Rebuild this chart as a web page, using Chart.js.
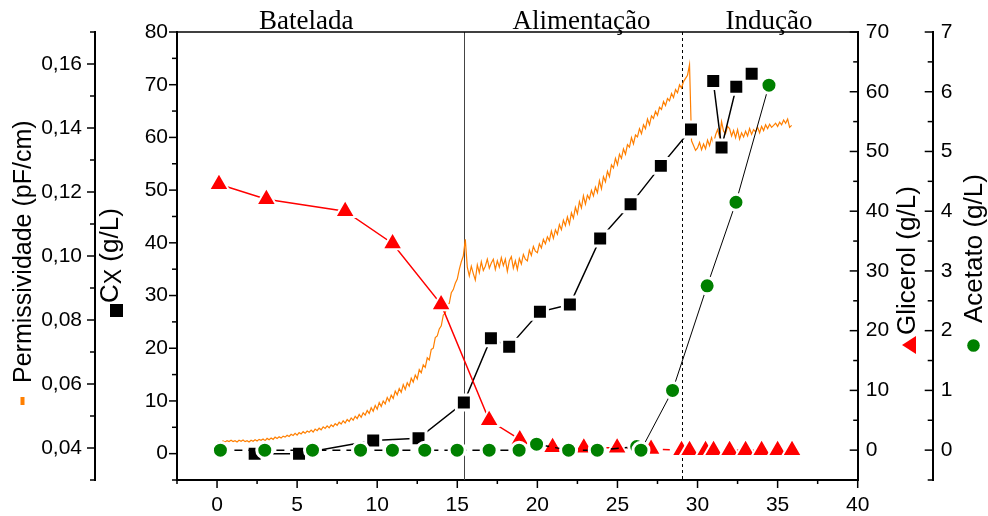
<!DOCTYPE html>
<html>
<head>
<meta charset="utf-8">
<script src="https://cdn.jsdelivr.net/npm/chart.js@4.4.1/dist/chart.umd.min.js"></script>
<style>
  html, body { margin: 0; padding: 0; background: #fff; }
  #chart { display: block; }
</style>
</head>
<body>
<canvas id="chart" width="988" height="516"></canvas>
<script>
// values (time in h)
var cxTime = [2.35, 5.12, 9.75, 12.58, 15.41, 17.1, 18.24, 20.16, 22.03, 23.92, 25.82, 27.71, 29.59, 30.98, 31.5, 32.42, 33.38];
var cxValues = [0, 0, 2.5, 2.9, 9.7, 21.9, 20.3, 26.9, 28.3, 40.8, 47.3, 54.6, 61.5, 70.7, 58.1, 69.6, 72.1];
var cxNoLinkAfter = [12, 15];

var glicerolTime = [0.12, 3.08, 8.0, 10.96, 13.99, 16.99, 18.9, 20.95, 22.9, 24.98, 27.1, 29.0, 29.5, 30.5, 31.0, 32.0, 33.0, 34.0, 35.0, 35.9];
var glicerolValues = [44.5, 42.0, 40.0, 34.6, 24.4, 5.0, 1.8, 0.5, 0.4, 0.4, 0.2, 0, 0, 0, 0, 0, 0, 0, 0, 0];
var glicerolDashFrom = 6;

var acetatoTime = [0.21, 2.98, 5.96, 8.96, 10.95, 12.97, 14.99, 16.99, 18.86, 19.95, 21.95, 23.74, 26.2, 26.47, 28.44, 30.6, 32.4, 34.46];
var acetatoValues = [0, 0, 0, 0, 0, 0, 0, 0, 0, 0.1, 0, 0, 0.06, 0, 1.0, 2.75, 4.15, 6.11];
var acetatoSolidFrom = 13;

// permittivity probe, one reading every 0.125 h from t = 0 (one row per hour)
var permStepH = 0.125;
var permValues = [
    0.0416, 0.0420, 0.0418, 0.0422, 0.0419, 0.0423, 0.0420, 0.0424,
    0.0420, 0.0423, 0.0419, 0.0424, 0.0421, 0.0425, 0.0420, 0.0423,
    0.0419, 0.0424, 0.0421, 0.0426, 0.0422, 0.0427, 0.0424, 0.0428,
    0.0423, 0.0430, 0.0426, 0.0431, 0.0427, 0.0434, 0.0430, 0.0435,
    0.0431, 0.0437, 0.0434, 0.0440, 0.0436, 0.0443, 0.0439, 0.0446,
    0.0440, 0.0448, 0.0444, 0.0451, 0.0446, 0.0453, 0.0449, 0.0456,
    0.0450, 0.0459, 0.0454, 0.0462, 0.0457, 0.0466, 0.0461, 0.0469,
    0.0463, 0.0472, 0.0467, 0.0476, 0.0471, 0.0481, 0.0475, 0.0485,
    0.0478, 0.0489, 0.0483, 0.0494, 0.0487, 0.0499, 0.0492, 0.0505,
    0.0496, 0.0510, 0.0503, 0.0517, 0.0508, 0.0526, 0.0515, 0.0533,
    0.0521, 0.0542, 0.0530, 0.0547, 0.0538, 0.0558, 0.0546, 0.0565,
    0.0555, 0.0578, 0.0566, 0.0586, 0.0574, 0.0598, 0.0583, 0.0604,
    0.0593, 0.0618, 0.0606, 0.0628, 0.0616, 0.0645, 0.0635, 0.0660,
    0.0652, 0.0682, 0.0675, 0.0708, 0.0712, 0.0745, 0.0750, 0.0772,
    0.0782, 0.0815, 0.0822, 0.0848, 0.0852, 0.0885, 0.0895, 0.0915,
    0.0928, 0.0958, 0.0982, 0.1000, 0.1052, 0.0965, 0.0938, 0.0968,
    0.0945, 0.0925, 0.0972, 0.0948, 0.0982, 0.0955, 0.0968, 0.0990,
    0.0962, 0.0978, 0.0990, 0.0958, 0.0985, 0.0965, 0.0995, 0.0970,
    0.0990, 0.0952, 0.0985, 0.0998, 0.0962, 0.0985, 0.0958, 0.0992,
    0.0975, 0.1005, 0.0990, 0.0985, 0.1018, 0.1002, 0.1030, 0.1015,
    0.1010, 0.1038, 0.1025, 0.1052, 0.1038, 0.1060, 0.1048, 0.1078,
    0.1055, 0.1082, 0.1068, 0.1098, 0.1082, 0.1112, 0.1095, 0.1122,
    0.1100, 0.1135, 0.1118, 0.1152, 0.1132, 0.1170, 0.1150, 0.1188,
    0.1162, 0.1190, 0.1178, 0.1205, 0.1188, 0.1215, 0.1198, 0.1235,
    0.1210, 0.1248, 0.1232, 0.1265, 0.1248, 0.1285, 0.1275, 0.1305,
    0.1285, 0.1318, 0.1305, 0.1335, 0.1318, 0.1348, 0.1340, 0.1370,
    0.1350, 0.1378, 0.1372, 0.1398, 0.1382, 0.1410, 0.1398, 0.1428,
    0.1410, 0.1438, 0.1430, 0.1452, 0.1440, 0.1465, 0.1458, 0.1483,
    0.1470, 0.1492, 0.1485, 0.1508, 0.1495, 0.1520, 0.1510, 0.1535,
    0.1525, 0.1545, 0.1555, 0.1565, 0.1598, 0.1360, 0.1345, 0.1330,
    0.1338, 0.1355, 0.1332, 0.1350, 0.1335, 0.1362, 0.1345, 0.1370,
    0.1352, 0.1378, 0.1395, 0.1372, 0.1420, 0.1390, 0.1382, 0.1405,
    0.1398, 0.1375, 0.1392, 0.1370, 0.1395, 0.1365, 0.1385, 0.1372,
    0.1390, 0.1375, 0.1398, 0.1380, 0.1395, 0.1388, 0.1402, 0.1385,
    0.1405, 0.1392, 0.1410, 0.1398, 0.1412, 0.1402, 0.1408, 0.1415,
    0.1405, 0.1418, 0.1410, 0.1425, 0.1415, 0.1428, 0.1402, 0.1408
];

var phaseBounds = [15.4, 29.05];
var phaseNames = ["Batelada", "Alimentação", "Indução"];
var phaseNameAt = [5.57, 22.75, 34.46];

var xTicks = [0, 5, 10, 15, 20, 25, 30, 35, 40];
var xMinor = [-2.5, 2.5, 7.5, 12.5, 17.5, 22.5, 27.5, 32.5, 37.5];
var cxTicks = [0, 10, 20, 30, 40, 50, 60, 70, 80];
var cxMinor = [-5, 5, 15, 25, 35, 45, 55, 65, 75];
var permTicks = [0.04, 0.06, 0.08, 0.10, 0.12, 0.14, 0.16];
var permMinor = [0.03, 0.05, 0.07, 0.09, 0.11, 0.13, 0.15, 0.17];
var glicerolTicks = [0, 10, 20, 30, 40, 50, 60, 70];
var glicerolMinor = [-5, 5, 15, 25, 35, 45, 55, 65];
var acetatoTicks = [0, 1, 2, 3, 4, 5, 6, 7];
var acetatoMinor = [-0.5, 0.5, 1.5, 2.5, 3.5, 4.5, 5.5, 6.5];

var ORANGE = "#FF7F00";
var RED = "#FF0000";
var GREEN = "#008000";
var SANS = "'Liberation Sans', Arial, sans-serif";
var SERIF = "'Liberation Serif', 'Times New Roman', serif";

function pairs(xs, ys) {
    var out = [];
    for (var i = 0; i < xs.length; i++) {
        out.push({ x: xs[i], y: ys[i] });
    }
    return out;
}

var permData = [];
for (var i = 0; i < permValues.length; i++) {
    permData.push({ x: i * permStepH, y: permValues[i] });
}

function yAxis(position, weight, min, max, ticks, width, pad, fmt) {
    return {
        type: "linear",
        position: position,
        weight: weight,
        min: min,
        max: max,
        grid: { display: false, drawTicks: false },
        border: { display: true, color: "#000", width: 2 },
        ticks: {
            color: "#000",
            font: { family: SANS, size: 21 },
            padding: pad,
            autoSkip: false,
            callback: fmt || function (v) { return String(v); },
        },
        afterBuildTicks: function (s) { s.ticks = ticks.map(function (v) { return { value: v }; }); },
        afterFit: function (s) { s.width = width; },
    };
}

// phase separators behind the data, ticks, frame and titles on top
var framePlugin = {
    id: "frame",
    beforeDatasetsDraw: function (chart) {
        var ctx = chart.ctx, a = chart.chartArea, xs = chart.scales.x;
        ctx.save();
        ctx.lineWidth = 1;
        var x1 = Math.round(xs.getPixelForValue(phaseBounds[0])) + 0.5;
        ctx.strokeStyle = "#444";
        ctx.beginPath(); ctx.moveTo(x1, a.top); ctx.lineTo(x1, a.bottom); ctx.stroke();
        var x2 = Math.round(xs.getPixelForValue(phaseBounds[1])) + 0.5;
        ctx.strokeStyle = "#000";
        ctx.setLineDash([3, 3]);
        ctx.beginPath(); ctx.moveTo(x2, a.top); ctx.lineTo(x2, a.bottom); ctx.stroke();
        ctx.restore();
    },
    afterDraw: function (chart) {
        var ctx = chart.ctx, a = chart.chartArea, sc = chart.scales;
        ctx.save();
        ctx.strokeStyle = "#000";
        ctx.lineWidth = 1.5;
        // top border
        ctx.beginPath(); ctx.moveTo(a.left, a.top); ctx.lineTo(a.right, a.top); ctx.stroke();

        function hTicks(scale, vals, len) {
            vals.forEach(function (v) {
                var x = scale.getPixelForValue(v);
                ctx.beginPath(); ctx.moveTo(x, scale.top); ctx.lineTo(x, scale.top + len); ctx.stroke();
            });
        }
        function vTicks(scale, vals, x0, len) {
            vals.forEach(function (v) {
                var y = scale.getPixelForValue(v);
                ctx.beginPath(); ctx.moveTo(x0, y); ctx.lineTo(x0 - len, y); ctx.stroke();
            });
        }
        hTicks(sc.x, xTicks, 8);
        hTicks(sc.x, xMinor, 4);
        vTicks(sc.yCx, cxTicks, sc.yCx.right, 8);
        vTicks(sc.yCx, cxMinor, sc.yCx.right, 5);
        vTicks(sc.yPerm, permTicks, sc.yPerm.right, 8);
        vTicks(sc.yPerm, permMinor, sc.yPerm.right, 5);
        vTicks(sc.yGli, glicerolTicks, sc.yGli.left, 8);
        vTicks(sc.yGli, glicerolMinor, sc.yGli.left, 4.5);
        vTicks(sc.yAce, acetatoTicks, sc.yAce.left, 8);
        vTicks(sc.yAce, acetatoMinor, sc.yAce.left, 5);

        // phase names
        ctx.fillStyle = "#000";
        ctx.font = "27px " + SERIF;
        ctx.textAlign = "center";
        ctx.textBaseline = "alphabetic";
        phaseNames.forEach(function (n, i) {
            ctx.fillText(n, sc.x.getPixelForValue(phaseNameAt[i]), 29);
        });

        // rotated axis titles with their symbols
        function rotText(parts, bx, yBottom) {
            ctx.save();
            ctx.translate(bx, yBottom);
            ctx.rotate(-Math.PI / 2);
            ctx.textAlign = "left";
            ctx.textBaseline = "alphabetic";
            var pos = 0;
            parts.forEach(function (p) {
                ctx.font = p.size + "px " + SANS;
                ctx.fillText(p.t, pos, p.dy || 0);
                pos += ctx.measureText(p.t).width;
            });
            ctx.restore();
        }
        rotText([{ t: "Permissividade (pF/cm)", size: 25 }], 31, 383);
        ctx.fillStyle = ORANGE;
        ctx.fillRect(20.5, 397, 4, 8);

        ctx.fillStyle = "#000";
        rotText([{ t: "C", size: 26 }, { t: "X", size: 23, dy: 3 }, { t: " (g/L)", size: 26 }], 118, 303);
        ctx.fillRect(110, 304, 13, 13);

        rotText([{ t: "Glicerol (g/L)", size: 26 }], 915, 335);
        ctx.fillStyle = RED;
        ctx.beginPath(); ctx.moveTo(902, 345); ctx.lineTo(916, 336); ctx.lineTo(916, 354); ctx.closePath(); ctx.fill();

        ctx.fillStyle = "#000";
        rotText([{ t: "Acetato (g/L)", size: 26 }], 981.5, 323);
        ctx.fillStyle = GREEN;
        ctx.beginPath(); ctx.arc(973.5, 345.5, 6.3, 0, Math.PI * 2); ctx.fill();
        ctx.restore();
    },
};

var config = {
    type: "line",
    data: {
        datasets: [
            {
                label: "Acetato",
                data: pairs(acetatoTime, acetatoValues),
                yAxisID: "yAce",
                borderColor: "#000",
                borderWidth: 1.2,
                pointStyle: "circle",
                pointRadius: 8,
                pointBackgroundColor: GREEN,
                pointBorderColor: "#fff",
                pointBorderWidth: 3,
                segment: {
                    borderDash: function (c) { return c.p0DataIndex < acetatoSolidFrom ? [8, 6] : undefined; },
                    borderWidth: function (c) { return c.p0DataIndex < acetatoSolidFrom ? 1.5 : 1; },
                },
            },
            {
                label: "Glicerol",
                data: pairs(glicerolTime, glicerolValues),
                yAxisID: "yGli",
                borderColor: RED,
                borderWidth: 1.5,
                pointStyle: "triangle",
                pointRadius: 11.5,
                pointBackgroundColor: RED,
                pointBorderColor: "#fff",
                pointBorderWidth: 2,
                segment: {
                    borderDash: function (c) { return c.p0DataIndex >= glicerolDashFrom ? [7, 5] : undefined; },
                },
            },
            {
                label: "Cx",
                data: pairs(cxTime, cxValues),
                yAxisID: "yCx",
                borderColor: "#000",
                borderWidth: 1.5,
                pointStyle: "rect",
                pointRadius: 10.6,
                pointBackgroundColor: "#000",
                pointBorderColor: "#fff",
                pointBorderWidth: 3,
                segment: {
                    borderColor: function (c) { return cxNoLinkAfter.indexOf(c.p0DataIndex) >= 0 ? "rgba(0,0,0,0)" : "#000"; },
                },
            },
            {
                label: "Permissividade",
                data: permData,
                yAxisID: "yPerm",
                borderColor: ORANGE,
                borderWidth: 1.2,
                pointRadius: 0,
            },
        ],
    },
    options: {
        responsive: false,
        animation: false,
        devicePixelRatio: 1,
        layout: { padding: { top: 32, left: 0, right: 0, bottom: 0 } },
        plugins: { legend: { display: false }, tooltip: { enabled: false } },
        elements: { line: { tension: 0 } },
        scales: {
            x: {
                type: "linear",
                position: "bottom",
                min: -2.5,
                max: 40,
                grid: { display: false, drawTicks: false },
                border: { display: true, color: "#000", width: 2 },
                ticks: {
                    color: "#000",
                    font: { family: SANS, size: 21 },
                    padding: 13,
                    autoSkip: false,
                    maxRotation: 0,
                    callback: function (v) { return String(v); },
                },
                afterBuildTicks: function (s) { s.ticks = xTicks.map(function (v) { return { value: v }; }); },
                afterFit: function (s) { s.height = 36; },
            },
            yCx: yAxis("left", 0, -5, 80, cxTicks, 82, 9),
            yPerm: yAxis("left", 1, 0.03, 0.17, permTicks, 95, 13, function (v) { return v.toFixed(2).replace(".", ","); }),
            yGli: yAxis("right", 0, -5, 70, glicerolTicks, 75, 8),
            yAce: yAxis("right", 1, -0.5, 7, acetatoTicks, 55.3, 8),
        },
    },
    plugins: [framePlugin],
};

new Chart("chart", config);
</script>
</body>
</html>
